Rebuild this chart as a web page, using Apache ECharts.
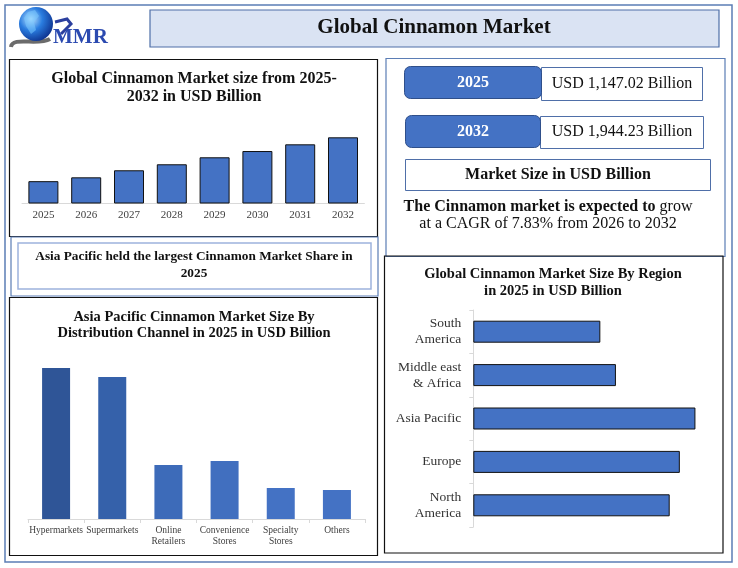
<!DOCTYPE html>
<html>
<head>
<meta charset="utf-8">
<script src="https://cdn.jsdelivr.net/npm/echarts@6/dist/echarts.min.js"></script>
<style>html,body{margin:0;padding:0;background:#fff;}#c{width:738px;height:568px;}</style>
</head>
<body>
<div id="c"></div>
<script>
// ---- data ----
var years = ['2025','2026','2027','2028','2029','2030','2031','2032'];
var marketSize = [1147.02, 1217, 1345, 1454, 1581, 1695, 1817, 1944.23];

var channels = ['Hypermarkets','Supermarkets','Online\nRetailers','Convenience\nStores','Specialty\nStores','Others'];
var channelValues = [151, 142, 54, 58, 31, 29];
var channelColors = ['#2f5597','#3561aa','#3d6bb9','#416fbf','#4472c4','#4472c4'];

var regions = ['North\nAmerica','Europe','Asia Pacific','Middle east\n& Africa','South\nAmerica'];
var regionValues = [252, 265, 285, 183, 163];

var SERIF = 'Liberation Serif, Times New Roman, serif';

function rect(x,y,w,h,fill,stroke,lw,r){
  return {type:'rect', silent:true, shape:{x:x,y:y,width:w,height:h,r:r||0},
    style:{fill:fill||'transparent', stroke:stroke, lineWidth:lw||1}};
}
function txt(x,y,t,size,weight,color,lh){
  return {type:'text', silent:true, style:{x:x,y:y,text:t,fontSize:size,fontWeight:weight||'normal',
    fontFamily:SERIF, fill:color||'#111', align:'center', verticalAlign:'middle', lineHeight:lh||size*1.2}};
}

var graphics = [
  // outer frame
  rect(5,5,727,557,null,'#5b7db5',1.5),
  // title box
  rect(150,10,569,37,'#dae3f3','#4f6fa8',1.2),
  txt(434,28,'Global Cinnamon Market',21,'bold','#111'),
  // logo
  {type:'bezierCurve', silent:true, shape:{x1:11,y1:47,x2:50,y2:39,cpx1:12,cpy1:36,cpx2:38,cpy2:46}, style:{stroke:'#6b6b6b',lineWidth:4,fill:'none'}},
  {type:'circle', silent:true, shape:{cx:36,cy:24,r:17}, style:{fill:{type:'radial',x:0.35,y:0.35,r:0.75,colorStops:[{offset:0,color:'#bfe6ff'},{offset:0.45,color:'#2a7de0'},{offset:1,color:'#0b2a86'}]}}},
  {type:'polygon', silent:true, shape:{points:[[28,12],[35,10],[39,16],[34,22],[36,30],[31,34],[26,26],[24,18]]}, style:{fill:'rgba(120,200,255,0.55)'}},
  {type:'polyline', silent:true, shape:{points:[[55,22],[67,19],[71,24],[61,34]]}, style:{stroke:'#2b3f9e',lineWidth:3,fill:'none'}},
  {type:'text', silent:true, style:{x:53,y:38,text:'MMR',fontSize:21,fontWeight:'bold',fontFamily:SERIF,fill:'#2b4ab0',align:'left',verticalAlign:'middle'}},

  // top-left panel
  rect(9.5,59.5,368,177,null,'#111',1.2),
  txt(194,88,'Global Cinnamon Market size from 2025-\n2032 in USD Billion',16,'bold','#111',18),

  // asia pacific share box
  rect(11,237,367,59,null,'#5b7db5',1.2),
  rect(18,243,353,46,null,'#9db3dd',1.5),
  txt(194,265.5,'Asia Pacific held the largest Cinnamon Market Share in\n2025',13.3,'bold','#111',17),

  // distribution panel
  rect(9.5,297.5,368,258,null,'#111',1.2),
  txt(194,325,'Asia Pacific Cinnamon Market Size By\nDistribution Channel in 2025 in USD Billion',14.5,'bold','#111',16.5),

  // top-right panel
  rect(386,58.5,339,198,null,'#5b7db5',1.2),
  rect(541.5,67.5,161,33,'#fff','#4f6fa8',1),
  rect(404.5,66.5,137,32,'#4472c4','#2f4f8a',1,6),
  txt(473,83,'2025',16,'bold','#fff'),
  txt(622,84,'USD 1,147.02 Billion',16,'normal','#111'),
  rect(540.5,116.5,163,32,'#fff','#4f6fa8',1),
  rect(405.5,115.5,135,32,'#4472c4','#2f4f8a',1,6),
  txt(473,131.5,'2032',16,'bold','#fff'),
  txt(622,132,'USD 1,944.23 Billion',16,'normal','#111'),
  rect(405.5,159.5,305,31,'#fff','#4f6fa8',1),
  txt(558,175,'Market Size in USD Billion',16,'bold','#111'),
  {type:'text', silent:true, style:{x:548,y:207,text:'{b|The Cinnamon market is expected to} {n|grow}',
    fontSize:16,fontFamily:SERIF,fill:'#111',align:'center',verticalAlign:'middle',
    rich:{b:{fontSize:16,fontWeight:'bold',fontFamily:SERIF,fill:'#111'},n:{fontSize:16,fontFamily:SERIF,fill:'#111'}}}},
  txt(548,224,'at a CAGR of 7.83% from 2026 to 2032',16,'normal','#111'),

  // region panel
  rect(384.5,256,338.5,297,null,'#111',1.2),
  txt(553,282.5,'Global Cinnamon Market Size By Region\nin 2025 in USD Billion',14.5,'bold','#111',17)
];

var chart = echarts.init(document.getElementById('c'), null, {renderer:'canvas'});
chart.setOption({
  animation:false,
  backgroundColor:'#fff',
  graphic: graphics,
  grid:[
    {left:22, right:373.6, top:115, height:88},
    {left:28, right:373, top:349, height:170},
    {left:473.3, width:249.4, top:310, height:217}
  ],
  xAxis:[
    {type:'category', gridIndex:0, data:years,
      axisLine:{lineStyle:{color:'#d9d9d9'}}, axisTick:{show:false},
      axisLabel:{fontFamily:SERIF, fontSize:11, color:'#404040', margin:7, interval:0}},
    {type:'category', gridIndex:1, data:channels,
      axisLine:{lineStyle:{color:'#d9d9d9'}}, axisTick:{show:true, length:4, lineStyle:{color:'#d9d9d9'}},
      axisLabel:{fontFamily:SERIF, fontSize:9.5, lineHeight:11, color:'#404040', margin:6, interval:0}},
    {type:'value', gridIndex:2, min:0, max:320, show:false, splitLine:{show:false}}
  ],
  yAxis:[
    {type:'value', gridIndex:0, min:750, max:2350, show:false, splitLine:{show:false}},
    {type:'value', gridIndex:1, min:0, max:170, show:false, splitLine:{show:false}},
    {type:'category', gridIndex:2, data:regions,
      axisLine:{show:true, lineStyle:{color:'#d9d9d9'}}, axisTick:{show:true, length:4, lineStyle:{color:'#d9d9d9'}},
      axisLabel:{fontFamily:SERIF, fontSize:13.5, lineHeight:16, color:'#333', margin:12, align:'right'}}
  ],
  series:[
    {type:'bar', xAxisIndex:0, yAxisIndex:0, data:marketSize, barWidth:30,
      itemStyle:{color:'#4472c4', borderColor:'#111', borderWidth:1}},
    {type:'bar', xAxisIndex:1, yAxisIndex:1, barWidth:28,
      data:channelValues.map(function(v,i){return {value:v, itemStyle:{color:channelColors[i]}};})},
    {type:'bar', xAxisIndex:2, yAxisIndex:2, data:regionValues, barWidth:22,
      itemStyle:{color:'#4472c4', borderColor:'#111', borderWidth:1}}
  ]
});
</script>
</body>
</html>
